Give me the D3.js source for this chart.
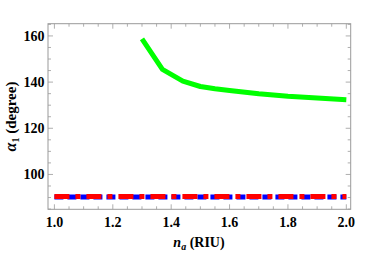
<!DOCTYPE html>
<html>
<head>
<meta charset="utf-8">
<script src="https://cdn.jsdelivr.net/npm/d3@7"></script>
<style>
body { margin: 0; background: #fff; }
</style>
</head>
<body>
<div id="graph"></div>
<script>
// green curve
var greenN = [1.30, 1.37, 1.44, 1.50, 1.55, 1.60, 1.70, 1.80, 1.90, 2.00];
var greenA = [158.7, 145.5, 140.4, 138.1, 137.1, 136.4, 135.0, 133.9, 133.1, 132.4];
// flat lines
var flatN = [1.0, 2.0];
var blueA = [90.2, 90.2];
var redA = [90.4, 90.4];

var xTicks = [1.0, 1.2, 1.4, 1.6, 1.8, 2.0];
var yTicks = [100, 120, 140, 160];

var W = 374, H = 253;
var pLeft = 48, pRight = 350.7, pTop = 23.7, pBottom = 209.3;
var FONT = "'Liberation Serif', 'Times New Roman', Times, serif";

var x = d3.scaleLinear().domain([0.978, 2.015]).range([pLeft, pRight]);
var y = d3.scaleLinear().domain([84.9, 165.3]).range([pBottom, pTop]);

var svg = d3.select("#graph").append("svg")
	.attr("width", W)
	.attr("height", H)
	.attr("font-family", FONT)
	.attr("font-weight", "bold");

var frameCol = "#9a9a9a";

// frame ticks, minor & major, all four sides
var xMinor = d3.range(1.0, 2.0001, 0.05);
var yMinor = d3.range(85, 165.001, 5);

function isMajorX(v) { return Math.abs(v * 5 - Math.round(v * 5)) < 1e-6; }
function isMajorY(v) { return Math.abs(v / 20 - Math.round(v / 20)) < 1e-6; }

var g = svg.append("g");
xMinor.forEach(function (v) {
	var len = isMajorX(v) ? 5 : 3;
	g.append("line").attr("x1", x(v)).attr("x2", x(v)).attr("y1", pBottom).attr("y2", pBottom - len)
		.attr("stroke", frameCol).attr("stroke-width", 0.8);
	g.append("line").attr("x1", x(v)).attr("x2", x(v)).attr("y1", pTop).attr("y2", pTop + len)
		.attr("stroke", frameCol).attr("stroke-width", 0.8);
});
yMinor.forEach(function (v) {
	var len = isMajorY(v) ? 5 : 3;
	g.append("line").attr("x1", pLeft).attr("x2", pLeft + len).attr("y1", y(v)).attr("y2", y(v))
		.attr("stroke", frameCol).attr("stroke-width", 0.8);
	g.append("line").attr("x1", pRight).attr("x2", pRight - len).attr("y1", y(v)).attr("y2", y(v))
		.attr("stroke", frameCol).attr("stroke-width", 0.8);
});

svg.append("rect")
	.attr("x", pLeft).attr("y", pTop)
	.attr("width", pRight - pLeft).attr("height", pBottom - pTop)
	.attr("fill", "none").attr("stroke", frameCol).attr("stroke-width", 1);

// tick labels
svg.selectAll(".xl").data(xTicks).enter().append("text")
	.attr("class", "xl")
	.attr("x", function (d) { return x(d); })
	.attr("y", 227)
	.attr("text-anchor", "middle")
	.attr("font-size", "14px")
	.text(function (d) { return d.toFixed(1); });

svg.selectAll(".yl").data(yTicks).enter().append("text")
	.attr("class", "yl")
	.attr("x", 44.5)
	.attr("y", function (d) { return y(d) + 5; })
	.attr("text-anchor", "end")
	.attr("font-size", "14px")
	.text(function (d) { return d; });

// axis labels
var xl = svg.append("text")
	.attr("x", 199)
	.attr("y", 247)
	.attr("text-anchor", "middle")
	.attr("font-size", "14px");
xl.append("tspan").attr("font-style", "italic").text("n");
xl.append("tspan").attr("font-style", "italic").attr("font-size", "10px").attr("dy", 3).text("a");
xl.append("tspan").attr("dy", -3).text(" (RIU)");

var yl = svg.append("text")
	.attr("transform", "translate(15.5," + ((pTop + pBottom) / 2) + ") rotate(-90)")
	.attr("text-anchor", "middle")
	.attr("font-size", "15px");
yl.append("tspan").attr("font-style", "italic").attr("font-size", "16px").text("α");
yl.append("tspan").attr("font-size", "10px").attr("dy", 3).text("1");
yl.append("tspan").attr("dy", -3).text(" (degree)");

var line = d3.line()
	.x(function (d) { return x(d[0]); })
	.y(function (d) { return y(d[1]); });

svg.append("path")
	.datum(flatN.map(function (n, i) { return [n, blueA[i]]; }))
	.attr("d", line)
	.attr("fill", "none")
	.attr("stroke", "#0000ff")
	.attr("stroke-width", 5)
	.attr("stroke-dasharray", "9,4");

svg.append("path")
	.datum(flatN.map(function (n, i) { return [n, redA[i]]; }))
	.attr("d", line)
	.attr("fill", "none")
	.attr("stroke", "#ff0000")
	.attr("stroke-width", 5)
	.attr("stroke-dasharray", "15,6,5,6");

svg.append("path")
	.datum(greenN.map(function (n, i) { return [n, greenA[i]]; }))
	.attr("d", line)
	.attr("fill", "none")
	.attr("stroke", "#00ff00")
	.attr("stroke-width", 5)
	.attr("stroke-linejoin", "round");
</script>
</body>
</html>
